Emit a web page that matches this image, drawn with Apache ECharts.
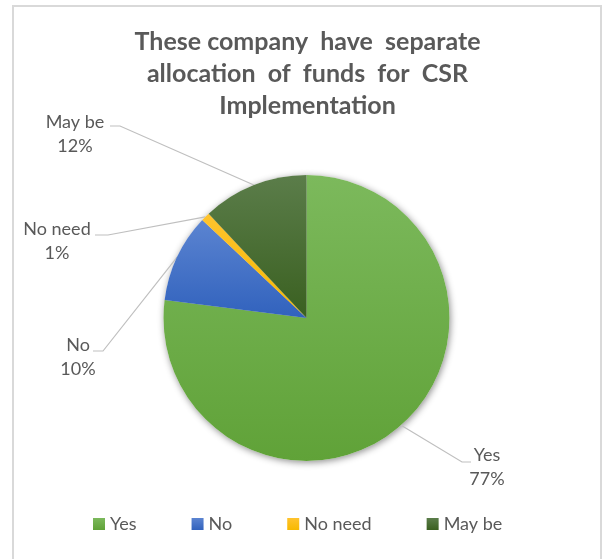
<!DOCTYPE html>
<html>
<head>
<meta charset="utf-8">
<script src="https://cdn.jsdelivr.net/npm/echarts@6/dist/echarts.min.js"></script>
<style>
  html, body { margin: 0; padding: 0; background: #ffffff; }
  #chart { width: 602px; height: 559px; }
</style>
</head>
<body>
<div id="chart"></div>
<script>
// Survey answers and their shares (percent)
const categories = ['Yes', 'No', 'No need', 'May be'];
const shares = [77, 10, 1, 12];
const titleLines = [
  'These company  have  separate',
  'allocation  of  funds  for  CSR',
  'Implementation'
];

// Top/bottom colours of each slice's vertical gradient
const sliceColors = [
  ['#7cb95c', '#60a238'],
  ['#5b84d1', '#3162bd'],
  ['#ffc32e', '#f7b900'],
  ['#5b7d4a', '#3a6020']
];

// Label placement: centre x of the text block, top y, and the bend/end of its leader line
const labelSpots = [
  { x: 487, top: 443, bend: [462, 462], end: [471, 462] },
  { x: 78,  top: 333, bend: [103, 351], end: [93, 351] },
  { x: 57,  top: 217, bend: [108, 235], end: [95, 235] },
  { x: 75,  top: 110, bend: [120, 126], end: [110, 126] }
];

const FONT = 'Lato, "Open Sans", sans-serif';
const TEXT = '#595959';

function gradient(pair) {
  return new echarts.graphic.LinearGradient(0, 0, 0, 1, [
    { offset: 0, color: pair[0] },
    { offset: 1, color: pair[1] }
  ]);
}

const pieData = categories.map((name, i) => ({
  name: name,
  value: shares[i],
  itemStyle: { color: gradient(sliceColors[i]) }
}));

const chart = echarts.init(document.getElementById('chart'), null, { renderer: 'canvas' });

chart.setOption({
  backgroundColor: '#ffffff',
  animation: false,
  graphic: [
    {
      type: 'rect',
      shape: { x: 13, y: 6, width: 588, height: 620 },
      style: { fill: 'none', stroke: '#d9d9d9', lineWidth: 2 },
      silent: true,
      z: -10
    },
    {
      type: 'text',
      x: 307.5,
      y: 26,
      style: {
        text: titleLines.join('\n'),
        align: 'center',
        verticalAlign: 'top',
        fontFamily: FONT,
        fontWeight: 'bold',
        fontSize: 25,
        lineHeight: 32,
        fill: TEXT
      },
      silent: true
    }
  ],
  legend: {
    data: categories,
    left: 88,
    top: 507,
    icon: 'rect',
    itemWidth: 12,
    itemHeight: 12,
    itemGap: 55,
    selectedMode: false,
    textStyle: { fontFamily: FONT, fontSize: 18, lineHeight: 24, color: TEXT }
  },
  series: [
    {
      type: 'pie',
      name: 'answers',
      center: [306.5, 318],
      radius: 143,
      startAngle: 90,
      clockwise: true,
      avoidLabelOverlap: false,
      z: 3,
      data: pieData,
      label: {
        show: true,
        position: 'outside',
        formatter: '{b}\n{d}%',
        fontFamily: FONT,
        fontSize: 18,
        lineHeight: 24,
        color: TEXT
      },
      labelLine: {
        show: true,
        length: 20,
        length2: 10,
        lineStyle: { color: '#bfbfbf', width: 1.2 }
      },
      labelLayout: function (params) {
        const spot = labelSpots[params.dataIndex];
        const start = params.labelLinePoints ? params.labelLinePoints[0] : spot.bend;
        return {
          x: spot.x,
          y: spot.top,
          align: 'center',
          verticalAlign: 'top',
          labelLinePoints: [start, spot.bend, spot.end]
        };
      },
      emphasis: { disabled: true }
    },
    {
      // soft shadow beneath the whole pie
      type: 'pie',
      name: 'shadow',
      center: [306.5, 318],
      radius: 143,
      startAngle: 90,
      silent: true,
      z: 1,
      data: categories.map((name, i) => ({ name: name, value: shares[i] })),
      itemStyle: {
        color: '#ffffff',
        shadowBlur: 7,
        shadowOffsetX: 1,
        shadowOffsetY: 1.5,
        shadowColor: 'rgba(0,0,0,0.45)'
      },
      label: { show: false },
      labelLine: { show: false },
      emphasis: { disabled: true }
    }
  ]
});
</script>
</body>
</html>
